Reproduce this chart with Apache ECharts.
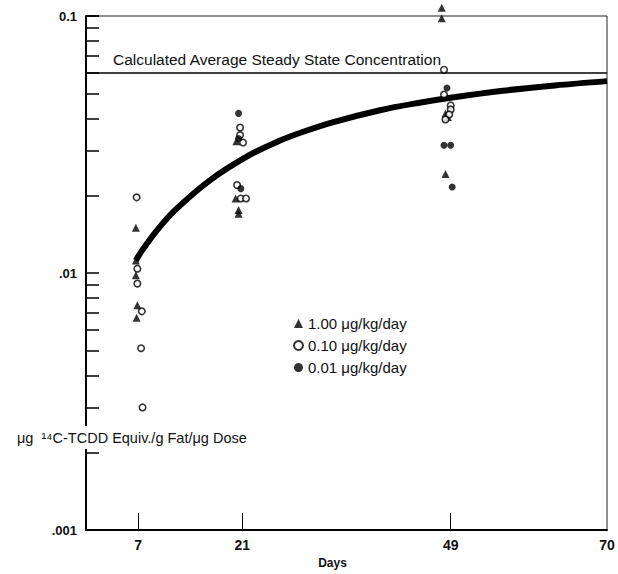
<!DOCTYPE html>
<html>
<head>
<meta charset="utf-8">
<script src="https://cdn.jsdelivr.net/npm/echarts@6/dist/echarts.min.js"></script>
<style>
  html, body { margin: 0; padding: 0; background: #fff; }
  #chart { width: 618px; height: 574px; }
</style>
</head>
<body>
<div id="chart"></div>
<script>
// fitted uptake curve (days, fraction of dose)
var curveDays = [6.7, 7.5, 9.4, 12, 16.6, 22, 26, 29, 33, 39.5, 45, 49, 56, 63, 70];
var curveValues = [0.0112, 0.0122, 0.0145, 0.0176, 0.0229, 0.0288, 0.0327, 0.0353, 0.0385, 0.0430, 0.0461, 0.0481, 0.0512, 0.0537, 0.0558];

// 1.00 ug/kg/day (triangles)
var highDays = [6.7, 6.7, 6.7, 6.9, 6.8, 20.2, 20.1, 20.5, 20.5, 47.8, 47.8, 48.3, 48.6, 48.3];
var highValues = [0.0150, 0.0112, 0.0098, 0.0075, 0.0067, 0.0326, 0.0195, 0.0176, 0.0170, 0.1077, 0.0980, 0.0418, 0.0405, 0.0243];

// 0.10 ug/kg/day (open circles)
var midDays = [6.8, 6.9, 6.9, 7.5, 7.4, 7.6, 20.7, 20.7, 21.1, 20.3, 20.8, 21.5, 48.1, 48.1, 49.0, 49.0, 48.8, 48.3];
var midValues = [0.0197, 0.0104, 0.0091, 0.0071, 0.0051, 0.0030, 0.0368, 0.0344, 0.0322, 0.0220, 0.0195, 0.0195, 0.0618, 0.0495, 0.0449, 0.0433, 0.0414, 0.0396];

// 0.01 ug/kg/day (filled dots)
var lowDays = [20.5, 20.5, 20.8, 48.5, 48.1, 49.0, 49.2];
var lowValues = [0.0418, 0.0334, 0.0213, 0.0525, 0.0314, 0.0314, 0.0216];

var dayTicks = [7, 21, 49];
var dayLabels = [7, 21, 49, 70];
var steadyState = 0.06;
var seriesNames = ['1.00 μg/kg/day', '0.10 μg/kg/day', '0.01 μg/kg/day'];

function pairs(xs, ys) {
    return xs.map(function (x, i) { return [x, ys[i]]; });
}

var font = 'Liberation Sans, Arial, sans-serif';
var chart = echarts.init(document.getElementById('chart'), null, { renderer: 'svg' });

chart.setOption({
    backgroundColor: '#fff',
    animation: false,
    textStyle: { fontFamily: font, color: '#111' },
    grid: {
        left: 86, right: 11, top: 16, bottom: 41,
        show: true, borderColor: '#222', borderWidth: 1
    },
    legend: {
        orient: 'vertical',
        left: 288, top: 311,
        itemWidth: 9, itemHeight: 9, itemGap: 7,
        textStyle: { fontSize: 15, color: '#111', fontFamily: font },
        data: seriesNames
    },
    xAxis: {
        type: 'value', min: 0, max: 70,
        name: 'Days', nameLocation: 'middle', nameGap: 23,
        nameTextStyle: { fontSize: 12, fontWeight: 'bold', color: '#111', padding: [0, 28, 0, 0] },
        axisLine: { lineStyle: { color: '#000', width: 2 } },
        axisTick: { inside: true, length: 17, customValues: dayTicks, lineStyle: { color: '#000', width: 1 } },
        axisLabel: { customValues: dayLabels, margin: 8, fontSize: 14, fontWeight: 'bold', color: '#111' },
        splitLine: { show: false }
    },
    yAxis: {
        type: 'log', logBase: 10, min: 0.001, max: 0.1, interval: 1,
        axisLine: { lineStyle: { color: '#000', width: 2 } },
        axisTick: { inside: true, length: 13, lineStyle: { color: '#000', width: 1.5 } },
        minorTick: { show: true, splitNumber: 9, length: 13, lineStyle: { color: '#000', width: 1.5 } },
        axisLabel: {
            margin: 9, fontSize: 13, fontWeight: 'bold', color: '#111',
            formatter: function (v) {
                if (v >= 0.1) return '0.1';
                if (v >= 0.01) return '.01';
                return '.001';
            }
        },
        splitLine: { show: false }
    },
    graphic: [{
        type: 'text',
        left: 15, top: 426,
        z: 100,
        style: {
            text: 'μg  ¹⁴C-TCDD Equiv./g Fat/μg Dose',
            font: '14.5px ' + font,
            fill: '#111',
            backgroundColor: '#fff',
            padding: [4, 2]
        }
    }],
    series: [{
        type: 'line',
        data: pairs(curveDays, curveValues),
        smooth: 0.35,
        showSymbol: false,
        lineStyle: { color: '#000', width: 6 },
        z: 2,
        markLine: {
            silent: true,
            symbol: 'none',
            lineStyle: { color: '#000', type: 'solid', width: 1.5 },
            label: {
                position: 'insideStartTop',
                formatter: 'Calculated Average Steady State Concentration',
                color: '#111', fontSize: 15.5, fontFamily: font,
                padding: [0, 0, 1, 22]
            },
            data: [{ yAxis: steadyState }]
        }
    }, {
        name: seriesNames[0],
        type: 'scatter',
        symbol: 'triangle',
        symbolSize: 8,
        clip: false,
        itemStyle: { color: '#000' },
        data: pairs(highDays, highValues),
        z: 5
    }, {
        name: seriesNames[1],
        type: 'scatter',
        symbol: 'circle',
        symbolSize: 6.5,
        clip: false,
        itemStyle: { color: '#fff', borderColor: '#000', borderWidth: 1.6 },
        data: pairs(midDays, midValues),
        z: 6
    }, {
        name: seriesNames[2],
        type: 'scatter',
        symbol: 'circle',
        symbolSize: 7,
        clip: false,
        itemStyle: { color: '#000' },
        data: pairs(lowDays, lowValues),
        z: 7
    }]
});
</script>
</body>
</html>
